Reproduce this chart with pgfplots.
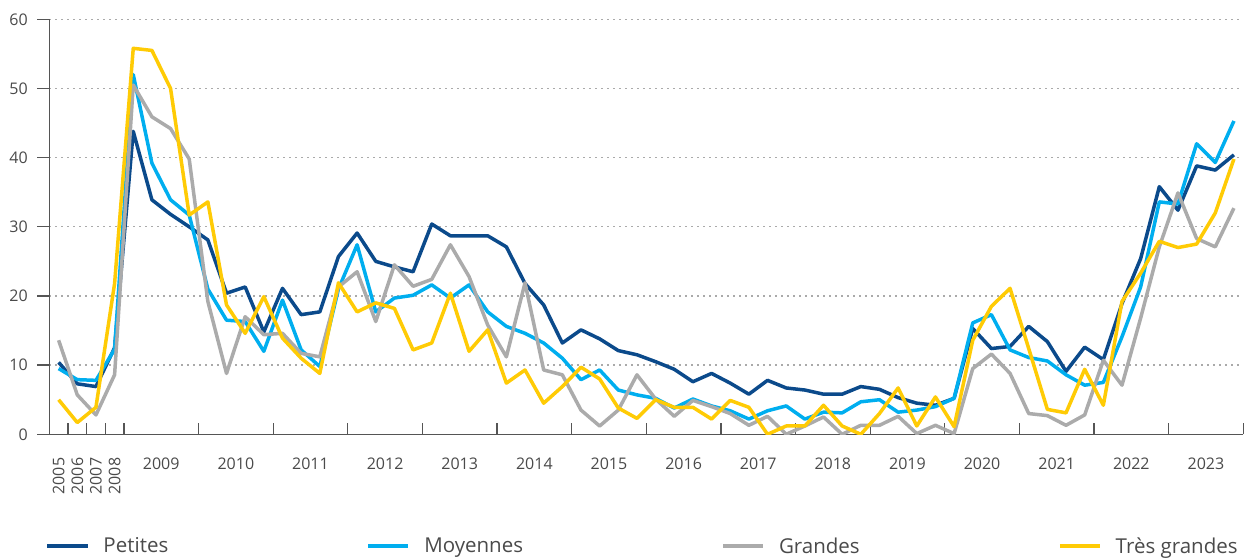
\documentclass[border=0pt]{standalone}
\usepackage{fontspec}
\setmainfont{Open Sans}
\usepackage{pgfplots}
\usepackage{pgfplotstable}
\pgfplotsset{compat=1.18}
\definecolor{cPet}{HTML}{0B4A8B}
\definecolor{cMoy}{HTML}{00AEEF}
\definecolor{cGra}{HTML}{ABABAB}
\definecolor{cTg}{HTML}{FFCB05}
\definecolor{axgray}{HTML}{555555}
\definecolor{txtgray}{HTML}{4A4A4A}
\definecolor{gridgray}{HTML}{AAAAAA}

\pgfplotstableread{
i P M G T
0 10.4 9.5 13.6 5.0
1 7.3 7.9 5.7 1.7
2 6.9 7.8 2.8 3.9
3 12.5 12.3 8.6 21.8
4 43.8 52.0 50.5 55.8
5 33.9 39.2 45.9 55.5
6 31.8 33.9 44.2 50.0
7 30.0 31.7 39.8 31.7
8 28.1 21.0 19.2 33.6
9 20.4 16.5 8.8 18.7
10 21.3 16.3 17.0 14.6
11 14.8 12.0 14.4 19.9
12 21.1 19.4 14.6 13.9
13 17.3 12.2 11.7 11.0
14 17.7 9.8 11.2 8.8
15 25.7 21.0 21.3 21.9
16 29.1 27.4 23.5 17.7
17 25.0 17.7 16.3 19.0
18 24.2 19.7 24.5 18.2
19 23.5 20.1 21.4 12.2
20 30.4 21.6 22.4 13.2
21 28.7 19.7 27.4 20.4
22 28.7 21.6 22.8 12.0
23 28.7 17.7 15.8 15.1
24 27.1 15.6 11.2 7.4
25 21.8 14.6 21.9 9.3
26 18.7 13.2 9.3 4.5
27 13.2 11.0 8.6 6.9
28 15.1 7.9 3.5 9.7
29 13.8 9.3 1.2 8.0
30 12.1 6.4 3.5 3.8
31 11.5 5.7 8.6 2.3
32 10.5 5.2 5.1 5.0
33 9.4 3.8 2.6 3.9
34 7.6 5.1 4.9 3.9
35 8.8 4.1 4.0 2.2
36 7.4 3.4 3.0 4.9
37 5.8 2.2 1.3 3.9
38 7.8 3.4 2.6 0.0
39 6.7 4.1 0.0 1.2
40 6.4 2.2 1.2 1.2
41 5.8 3.2 2.5 4.2
42 5.8 3.1 0.0 1.2
43 6.9 4.7 1.3 0.0
44 6.5 5.0 1.3 3.0
45 5.3 3.2 2.6 6.7
46 4.5 3.5 0.1 1.2
47 4.2 4.0 1.3 5.4
48 5.2 5.2 0.1 1.1
49 15.3 16.1 9.5 13.6
50 12.4 17.3 11.6 18.5
51 12.7 12.2 8.8 21.1
52 15.6 11.1 3.0 12.4
53 13.4 10.6 2.7 3.6
54 9.1 8.6 1.3 3.1
55 12.6 7.1 2.8 9.4
56 10.8 7.5 10.7 4.2
57 18.9 14.1 7.1 19.2
58 25.4 21.3 16.8 23.3
59 35.8 33.6 27.1 27.9
60 32.4 33.3 34.9 27.0
61 38.8 42.0 28.3 27.5
62 38.2 39.3 27.1 32.0
63 40.4 45.3 32.7 39.8
}\datatable

\begin{document}
\begin{tikzpicture}
\useasboundingbox (0,0) rectangle (1249pt,559pt);
\begin{axis}[
  scale only axis,
  width=1194pt, height=415pt,
  at={(49.3pt,124.7pt)}, anchor=south west,
  xmin=-0.5, xmax=63.5, ymin=0, ymax=60,
  axis x line*=bottom, axis y line*=left,
  axis line style={color=axgray, line width=1.3pt},
  ytick={0,10,...,60},
  ymajorgrids,
  grid style={gridgray, line width=1.3pt, dash pattern=on 1.3pt off 4.7pt},
  ytick align=outside,
  xtick align=inside,
  major tick length=12pt,
  minor tick length=11pt,
  every tick/.style={color=axgray, line width=1.3pt},
  major x tick style={draw=none},
  xtick={5.5,9.5,...,61.5},
  xticklabels={2009,2010,2011,2012,2013,2014,2015,2016,2017,2018,2019,2020,2021,2022,2023},
  minor xtick={0.5,1.5,2.5,3.5,7.5,11.5,15.5,19.5,23.5,27.5,31.5,35.5,39.5,43.5,47.5,51.5,55.5,59.5,63.5},
  extra x ticks={0,1,2,3},
  extra x tick labels={2005,2006,2007,2008},
  extra x tick style={xticklabel style={rotate=90, anchor=east, yshift=0pt, xshift=0pt}, major x tick style={draw=none}},
  tick label style={font=\fontsize{16}{19}\selectfont, color=txtgray},
  xticklabel style={yshift=-20pt},
  /pgf/number format/assume math mode=true,
  yticklabel style={xshift=-6pt},
  legend columns=4,
  legend style={at={(0,0)}, anchor=north west, yshift=-99pt, xshift=-7pt, draw=none, fill=none,
    font=\fontsize{20.5}{24}\selectfont, text=txtgray,
    /tikz/every odd column/.append style={column sep=12pt},
    /tikz/every even column/.append style={column sep=196pt}},
  legend image code/.code={\draw[#1, line width=4pt] (0pt,0pt) -- (40pt,0pt);},
  every axis plot/.append style={line width=3.5pt, line join=round},
]
\addplot[cPet] table[x=i, y=P] {\datatable};
\addplot[cMoy] table[x=i, y=M] {\datatable};
\addplot[cGra] table[x=i, y=G] {\datatable};
\addplot[cTg] table[x=i, y=T] {\datatable};
\legend{Petites, Moyennes, Grandes, Très grandes}
\end{axis}
\end{tikzpicture}
\end{document}
